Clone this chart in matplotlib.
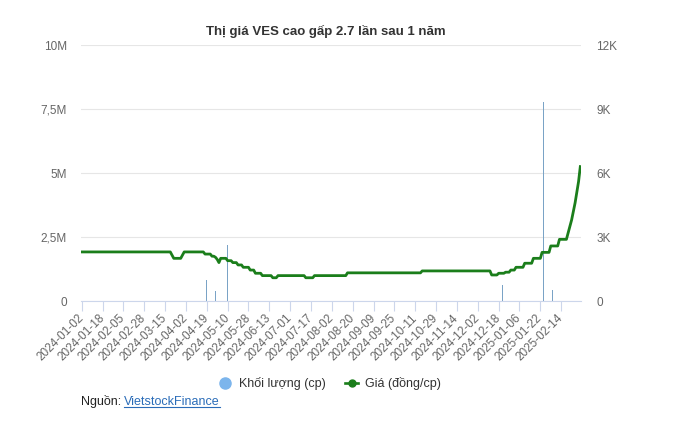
import numpy as np
import matplotlib
matplotlib.use("Agg")
import matplotlib.pyplot as plt
from matplotlib.lines import Line2D

plt.rcParams['font.family'] = ['Liberation Sans', 'DejaVu Sans']

title = "Thị giá VES cao gấp 2.7 lần sau 1 năm"

# category axis: one slot per trading day, a label every 12 sessions
x_labels = ['2024-01-02', '2024-01-18', '2024-02-05', '2024-02-28', '2024-03-15',
            '2024-04-02', '2024-04-19', '2024-05-10', '2024-05-28', '2024-06-13',
            '2024-07-01', '2024-07-17', '2024-08-02', '2024-08-20', '2024-09-09',
            '2024-09-25', '2024-10-11', '2024-10-29', '2024-11-14', '2024-12-02',
            '2024-12-18', '2025-01-06', '2025-01-22', '2025-02-14']
tick_step = 12

# price (dong/cp), stored as level + number of sessions at that level
price_levels = [2300, 2150, 2000, 2150, 2300, 2200, 2100, 2050, 1950, 1800,
                2000, 1890, 1800, 1690, 1580, 1450, 1300, 1190, 1090, 1190,
                1090, 1190, 1320, 1410, 1220, 1300, 1350, 1450, 1580, 1770,
                2000, 2280, 2580, 2890, 3200, 3500, 3800, 4200, 4600, 5100,
                5600, 6300]
price_days = [52, 1, 5, 1, 12, 4, 2, 1, 1, 1,
              4, 3, 3, 3, 4, 3, 4, 6, 3, 16,
              5, 19, 43, 40, 4, 4, 3, 3, 5, 5,
              5, 5, 5, 5, 1, 1, 1, 1, 1, 1,
              1, 1]

# volume (cp): sessions with visible trading
vol_idx = [72, 77, 84, 242, 266, 271]
vol_values = [820000, 390000, 2190000, 630000, 7760000, 430000]

vol_ticks = [0, 2.5e6, 5e6, 7.5e6, 10e6]
vol_tick_labels = ["0", "2,5M", "5M", "7,5M", "10M"]
price_ticks = [0, 3000, 6000, 9000, 12000]
price_tick_labels = ["0", "3K", "6K", "9K", "12K"]

price = np.repeat(price_levels, price_days)
x = np.arange(len(price))

green = '#1b7e1b'
bar_col = '#7aa3c6'
axis_col = '#ccd6eb'
grid_col = '#e6e6e6'
txt_col = '#666666'

W, H = 674, 429
fig = plt.figure(figsize=(W / 100, H / 100), dpi=100)
ax = fig.add_axes([81 / W, 1 - 301 / H, 500 / W, 256 / H])
ax2 = ax.twinx()

# volume columns (left axis)
ax.bar(vol_idx, vol_values, width=0.6, color=bar_col, zorder=2)
ax.set_ylim(0, 10e6)
ax.set_yticks(vol_ticks)
ax.set_yticklabels(vol_tick_labels)
ax.set_xlim(-0.4, len(price) - 0.6)
ax.yaxis.grid(True, color=grid_col, lw=0.8)
ax.set_axisbelow(True)

xt = x[::tick_step][:len(x_labels)]
ax.set_xticks(xt)
ax.set_xticklabels(x_labels, rotation=45, ha='right', va='center',
                   rotation_mode='anchor')
ax.tick_params(axis='x', direction='out', length=7, width=0.8, color=axis_col,
               labelcolor=txt_col, labelsize=8.5, pad=4)
ax.tick_params(axis='y', length=0, labelcolor=txt_col, labelsize=8.5, pad=10)

for s in ['top', 'left', 'right']:
    ax.spines[s].set_visible(False)
ax.spines['bottom'].set_color(axis_col)
ax.spines['bottom'].set_linewidth(0.8)

# price line (right axis)
ax2.plot(x, price, color=green, lw=2.0, zorder=3)
ax2.set_ylim(0, 12000)
ax2.set_yticks(price_ticks)
ax2.set_yticklabels(price_tick_labels)
ax2.tick_params(axis='y', length=0, labelcolor=txt_col, labelsize=8.5, pad=11)
for s in ax2.spines.values():
    s.set_visible(False)

fig.text(326 / W, 1 - 31 / H, title, ha='center', va='center',
         fontsize=9.5, weight='bold', color='#333333')

handles = [Line2D([], [], marker='o', ls='none', color='#7cb5ec', markersize=8),
           Line2D([], [], color=green, lw=1.9, marker='o', markersize=5)]
leg = fig.legend(handles, ['Khối lượng (cp)', 'Giá (đồng/cp)'], loc='center',
                 bbox_to_anchor=(330 / W, 1 - 384 / H), ncol=2, frameon=False,
                 fontsize=9, handlelength=1.0, handletextpad=0.6,
                 columnspacing=1.6)
for t in leg.get_texts():
    t.set_color('#333333')

src = fig.text(81 / W, 1 - 402 / H, "Nguồn: ", ha='left', va='center',
               fontsize=9, color='#222222')
link = fig.text(124 / W, 1 - 402 / H, "VietstockFinance", ha='left',
                va='center', fontsize=9, color='#2a6cb8')
fig.canvas.draw()
bb = link.get_window_extent(fig.canvas.get_renderer())
uy = (bb.y0 + 1.5) / H
fig.add_artist(Line2D([bb.x0 / W, bb.x1 / W], [uy, uy], color='#2a6cb8', lw=0.8))

fig.savefig("out.png", dpi=100)
